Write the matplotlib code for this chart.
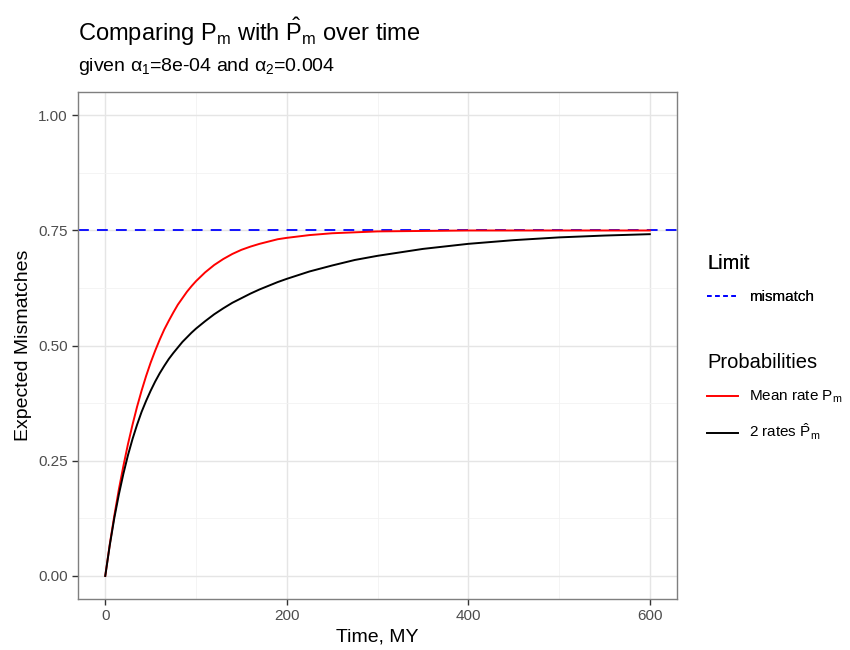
import matplotlib
matplotlib.use("Agg")
import matplotlib.pyplot as plt
import numpy as np
from matplotlib.lines import Line2D
from matplotlib.ticker import MultipleLocator

# values
time_my = [0, 5, 10, 15, 20, 25, 30, 35, 40, 45, 50, 55, 60, 65, 70, 75, 80,
           85, 90, 95, 100, 110, 120, 130, 140, 150, 160, 170, 180, 190, 200,
           225, 250, 275, 300, 350, 400, 450, 500, 550, 600]
mean_rate = [0, 0.069, 0.131, 0.188, 0.239, 0.286, 0.328, 0.367, 0.402, 0.434,
             0.463, 0.489, 0.513, 0.535, 0.554, 0.572, 0.589, 0.603, 0.617,
             0.629, 0.640, 0.659, 0.675, 0.688, 0.699, 0.708, 0.715, 0.721,
             0.726, 0.731, 0.734, 0.740, 0.744, 0.746, 0.748, 0.749, 0.750,
             0.750, 0.750, 0.750, 0.750]
two_rates = [0, 0.067, 0.126, 0.177, 0.222, 0.262, 0.297, 0.328, 0.356, 0.380,
             0.402, 0.422, 0.440, 0.456, 0.471, 0.484, 0.496, 0.508, 0.518,
             0.528, 0.537, 0.553, 0.568, 0.581, 0.593, 0.603, 0.613, 0.622,
             0.630, 0.638, 0.645, 0.661, 0.674, 0.686, 0.695, 0.710, 0.721,
             0.729, 0.735, 0.739, 0.742]
limit = 0.75

plt.rcParams['font.family'] = ['Liberation Sans', 'DejaVu Sans']
plt.rcParams['mathtext.fontset'] = 'custom'
plt.rcParams['mathtext.rm'] = 'Liberation Sans'
plt.rcParams['mathtext.it'] = 'Liberation Sans'

fig = plt.figure(figsize=(8.5, 6.5), dpi=100)
ax = fig.add_axes([0.0918, 0.0785, 0.7047, 0.7795])

ax.axhline(limit, color='blue', ls=(0, (6, 4.5)), lw=1.3)
ax.plot(time_my, mean_rate, color='red', lw=1.4)
ax.plot(time_my, two_rates, color='black', lw=1.4)

ax.set_xlim(-30, 630)
ax.set_ylim(-0.05, 1.05)
ax.xaxis.set_major_locator(MultipleLocator(200))
ax.xaxis.set_minor_locator(MultipleLocator(100))
ax.yaxis.set_minor_locator(MultipleLocator(0.125))
ax.set_yticks([0, 0.25, 0.5, 0.75, 1.0])
ax.set_yticklabels(['0.00', '0.25', '0.50', '0.75', '1.00'])
ax.grid(which='major', color='#e5e5e5', lw=1.0)
ax.grid(which='minor', color='#f2f2f2', lw=0.6)
ax.set_axisbelow(True)
for s in ax.spines.values():
    s.set_color('#7f7f7f')
    s.set_linewidth(1.0)
ax.tick_params(which='major', length=4, color='#333333', labelsize=11,
               labelcolor='#4d4d4d', width=1)
ax.tick_params(which='minor', length=0)

ax.set_xlabel('Time, MY', fontsize=14)
ax.set_ylabel('Expected Mismatches', fontsize=14)

fig.text(0.0918, 0.951, r'Comparing P$_\mathrm{m}$ with $\hat{\mathrm{P}}_\mathrm{m}$ over time',
         fontsize=17, va='center', ha='left')
fig.text(0.0918, 0.898, r'given $\alpha_1$=8e-04 and $\alpha_2$=0.004',
         fontsize=14, va='center', ha='left')

h1 = [Line2D([], [], color='blue', ls=(0, (2.5, 2)), lw=1.3)]
leg1 = fig.legend(h1, ['mismatch'], title='Limit', loc='upper left',
                  bbox_to_anchor=(0.816, 0.631), frameon=False, fontsize=11,
                  title_fontsize=14.5, handlelength=2.0, handletextpad=0.7,
                  labelspacing=1.15, alignment='left')
fig.add_artist(leg1)
h2 = [Line2D([], [], color='red', lw=1.4), Line2D([], [], color='black', lw=1.4)]
fig.legend(h2, [r'Mean rate P$_\mathrm{m}$', r'2 rates $\hat{\mathrm{P}}_\mathrm{m}$'],
           title='Probabilities', loc='upper left', bbox_to_anchor=(0.816, 0.478),
           frameon=False, fontsize=11, title_fontsize=14.5, handlelength=2.0,
           handletextpad=0.7, labelspacing=1.1, alignment='left')

fig.savefig('out.png', dpi=100)
